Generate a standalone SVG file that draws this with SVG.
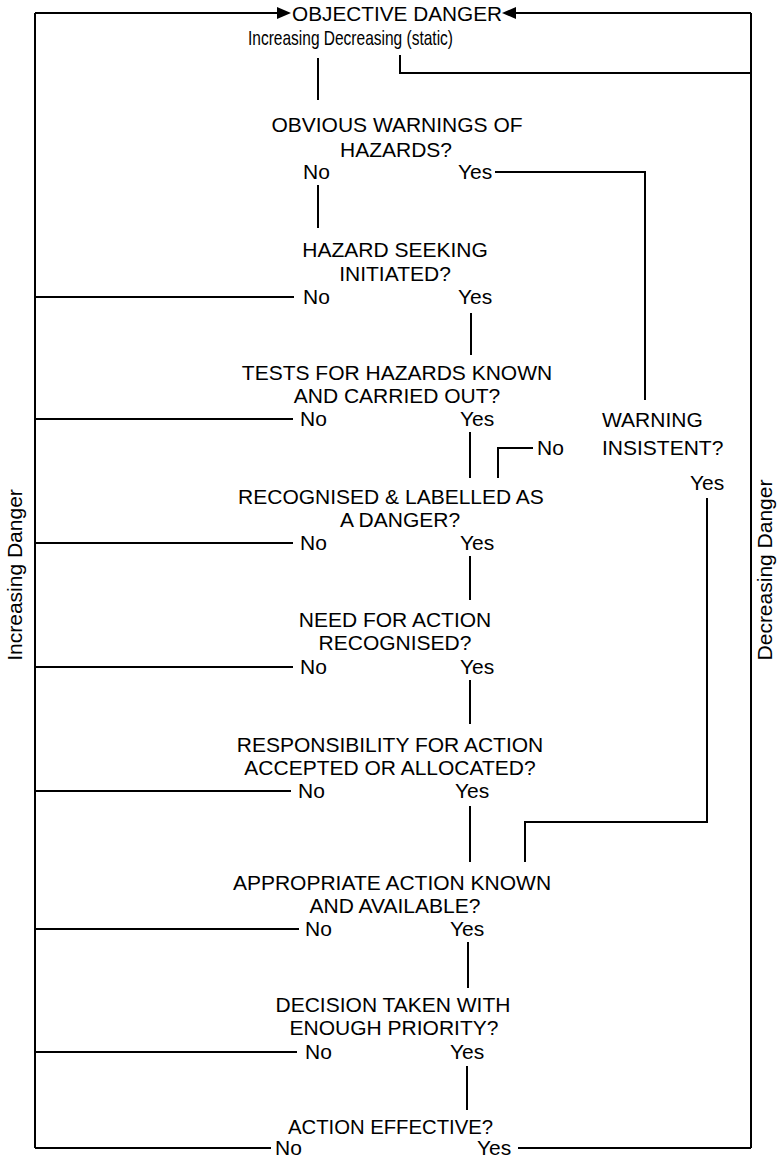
<svg xmlns="http://www.w3.org/2000/svg" width="781" height="1164" viewBox="0 0 781 1164">
<style>
text{font-family:"Liberation Sans",Arial,sans-serif;font-size:21px;fill:#000}
.m{text-anchor:middle}
.c line, .c polyline{stroke:#000;stroke-width:2;fill:none}
</style>
<rect width="781" height="1164" fill="#fff"/>
<g id="connectors" class="c">
<line x1="35" y1="13" x2="35" y2="1148"/>
<line x1="751" y1="13" x2="751" y2="1148"/>
<line x1="35" y1="13" x2="278" y2="13"/>
<line x1="515" y1="13" x2="751" y2="13"/>
<polygon points="277,7 291,13 277,19" fill="#000"/>
<polygon points="502,13 516,7 516,19" fill="#000"/>
<line x1="318" y1="58" x2="318" y2="100"/>
<polyline points="400,55 400,73 751,73"/>
<line x1="318" y1="185" x2="318" y2="228"/>
<polyline points="495,172 645,172 645,400"/>
<line x1="35" y1="297" x2="294" y2="297"/>
<line x1="471" y1="313" x2="471" y2="355"/>
<line x1="35" y1="419" x2="293" y2="419"/>
<line x1="470" y1="432" x2="470" y2="478"/>
<polyline points="498,478 498,448 533,448"/>
<line x1="35" y1="543" x2="293" y2="543"/>
<line x1="470" y1="556" x2="470" y2="600"/>
<line x1="35" y1="667" x2="293" y2="667"/>
<line x1="470" y1="680" x2="470" y2="724"/>
<line x1="35" y1="791" x2="291" y2="791"/>
<line x1="470" y1="806" x2="470" y2="862"/>
<polyline points="707,498 707,822 525,822 525,862"/>
<line x1="35" y1="929" x2="299" y2="929"/>
<line x1="468" y1="942" x2="468" y2="988"/>
<line x1="35" y1="1052" x2="297" y2="1052"/>
<line x1="467" y1="1066" x2="467" y2="1110"/>
<line x1="35" y1="1148" x2="271" y2="1148"/>
<line x1="518" y1="1148" x2="751" y2="1148"/>
</g>
<g id="objective">
<text x="292" y="21" font-size="24" textLength="210" lengthAdjust="spacingAndGlyphs">OBJECTIVE DANGER</text>
<text x="248" y="45" font-size="22" textLength="205" lengthAdjust="spacingAndGlyphs">Increasing Decreasing (static)</text>
</g>
<g id="q1">
<text class="m" x="397" y="132">OBVIOUS WARNINGS OF</text>
<text class="m" x="396" y="157">HAZARDS?</text>
<text x="303" y="179">No</text><text x="458" y="179">Yes</text>
</g>
<g id="q2">
<text class="m" x="395" y="257">HAZARD SEEKING</text>
<text class="m" x="395" y="281">INITIATED?</text>
<text x="303" y="304">No</text><text x="458" y="304">Yes</text>
</g>
<g id="q3">
<text class="m" x="397" y="380">TESTS FOR HAZARDS KNOWN</text>
<text class="m" x="397" y="403">AND CARRIED OUT?</text>
<text x="300" y="426">No</text><text x="460" y="426">Yes</text>
</g>
<g id="warning">
<text x="602" y="427">WARNING</text>
<text x="602" y="455">INSISTENT?</text>
<text x="537" y="455">No</text>
<text x="690" y="490">Yes</text>
</g>
<g id="q4">
<text class="m" x="391" y="504">RECOGNISED &amp; LABELLED AS</text>
<text class="m" x="400" y="527">A DANGER?</text>
<text x="300" y="550">No</text><text x="460" y="550">Yes</text>
</g>
<g id="q5">
<text class="m" x="395" y="627">NEED FOR ACTION</text>
<text class="m" x="395" y="650">RECOGNISED?</text>
<text x="300" y="674">No</text><text x="460" y="674">Yes</text>
</g>
<g id="q6">
<text class="m" x="390" y="752">RESPONSIBILITY FOR ACTION</text>
<text class="m" x="390" y="775">ACCEPTED OR ALLOCATED?</text>
<text x="298" y="798">No</text><text x="455" y="798">Yes</text>
</g>
<g id="q7">
<text class="m" x="392" y="890">APPROPRIATE ACTION KNOWN</text>
<text class="m" x="395" y="913">AND AVAILABLE?</text>
<text x="305" y="936">No</text><text x="450" y="936">Yes</text>
</g>
<g id="q8">
<text class="m" x="393" y="1012">DECISION TAKEN WITH</text>
<text class="m" x="394" y="1035">ENOUGH PRIORITY?</text>
<text x="305" y="1059">No</text><text x="450" y="1059">Yes</text>
</g>
<g id="q9">
<text x="288" y="1134" textLength="205" lengthAdjust="spacingAndGlyphs">ACTION EFFECTIVE?</text>
<text x="275" y="1155">No</text><text x="477" y="1155">Yes</text>
</g>
<g id="side-labels">
<text class="m" transform="translate(22,575) rotate(-90)">Increasing Danger</text>
<text class="m" transform="translate(772,570) rotate(-90)">Decreasing Danger</text>
</g>
</svg>
